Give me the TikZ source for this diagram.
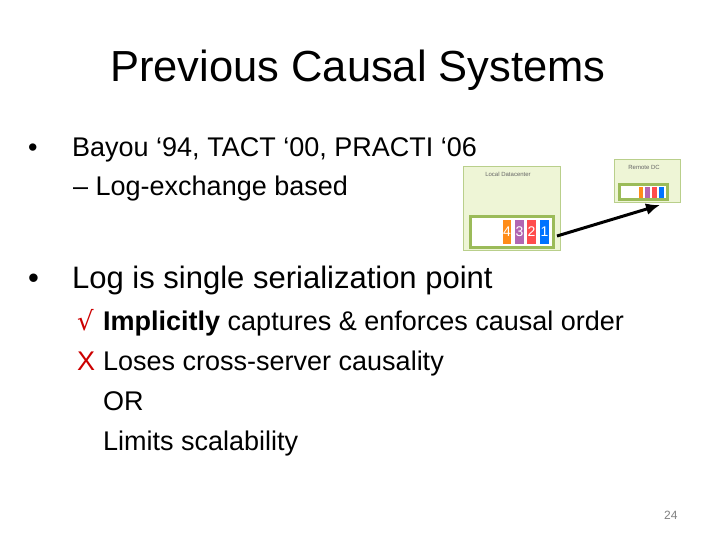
\documentclass[tikz,border=0pt]{standalone}
\usepackage{fontspec}
\usetikzlibrary{arrows.meta}
\setmainfont{Liberation Sans}
\newfontfamily\djfont{DejaVu Sans}
\definecolor{olv}{HTML}{9BBB59}
\definecolor{pale}{HTML}{EEF5D6}
\begin{document}
\begin{tikzpicture}[x=1pt,y=-1pt,
  txt/.style={anchor=base west,inner sep=0pt},
  dc/.style={draw=olv!70,fill=pale,line width=1pt},
  bar/.style={draw=olv,fill=white,line width=3pt},
  tiny/.style={font=\fontsize{6}{7}\selectfont,text=gray!80!black}]
\useasboundingbox (0,0) rectangle (720,540);
\node[txt,font=\fontsize{43.5}{50}\selectfont] (title) at (110,82) {Previous Causal Systems};
\node[txt,font=\fontsize{27}{32}\selectfont] (b1d) at (28,157) {•};
\node[txt,font=\fontsize{27}{32}\selectfont] (b1) at (72,157) {Bayou ‘94, TACT ‘00, PRACTI ‘06};
\node[txt,font=\fontsize{27}{32}\selectfont] (b1a) at (73,196) {– Log-exchange based};
\node[txt,font=\fontsize{31}{36}\selectfont] (b2d) at (28,288) {•};
\node[txt,font=\fontsize{31}{36}\selectfont] (b2) at (72,288) {Log is single serialization point};
\node[txt,font=\fontsize{26}{32}\selectfont,text=red!80!black] (ck) at (77,330) {\djfont √};
\node[txt,font=\fontsize{27}{32}\selectfont] (l1) at (103,330) {\textbf{Implicitly} captures \& enforces causal order};
\node[txt,font=\fontsize{27}{32}\selectfont,text=red!80!black] (xx) at (77,370) {X};
\node[txt,font=\fontsize{27}{32}\selectfont] (l2) at (103,370) {Loses cross-server causality};
\node[txt,font=\fontsize{27}{32}\selectfont] (l3) at (103,410) {OR};
\node[txt,font=\fontsize{27}{32}\selectfont] (l4) at (103,450) {Limits scalability};
\node[txt,font=\fontsize{12}{14}\selectfont,text=gray] (pg) at (664,519) {24};
% local DC
\draw[dc] (463,167) rectangle (560,250);
\node[tiny] (lt) at (508,174) {Local Datacenter};
\draw[bar] (470,217) rectangle (553,247);
\fill[orange!90] (503,220) rectangle (511,244); \node[text=white,font=\fontsize{14}{16}\selectfont] (c4) at (507,232) {4};
\fill[violet!60] (515,220) rectangle (524,244); \node[text=white,font=\fontsize{14}{16}\selectfont] (c3) at (519.5,232) {3};
\fill[red!70] (527,220) rectangle (536,244); \node[text=white,font=\fontsize{14}{16}\selectfont] (c2) at (531.5,232) {2};
\fill[blue!55!cyan] (540,220) rectangle (549,244); \node[text=white,font=\fontsize{14}{16}\selectfont] (c1) at (544.5,232) {1};
% remote DC
\draw[dc] (614,160) rectangle (680,203);
\node[tiny] (rt) at (644,167) {Remote DC};
\draw[bar] (619,185) rectangle (667,200);
\fill[orange!90] (639,187) rectangle (643,198);
\fill[violet!60] (645,187) rectangle (650,198);
\fill[red!70] (652,187) rectangle (657,198);
\fill[blue!55!cyan] (659,187) rectangle (664,198);
\coordinate (s) at (557,236);
\coordinate (e) at (660,205);
\draw[line width=3pt,-{Latex[length=14pt,width=12pt]}] (s) -- (e);
\end{tikzpicture}
\end{document}
